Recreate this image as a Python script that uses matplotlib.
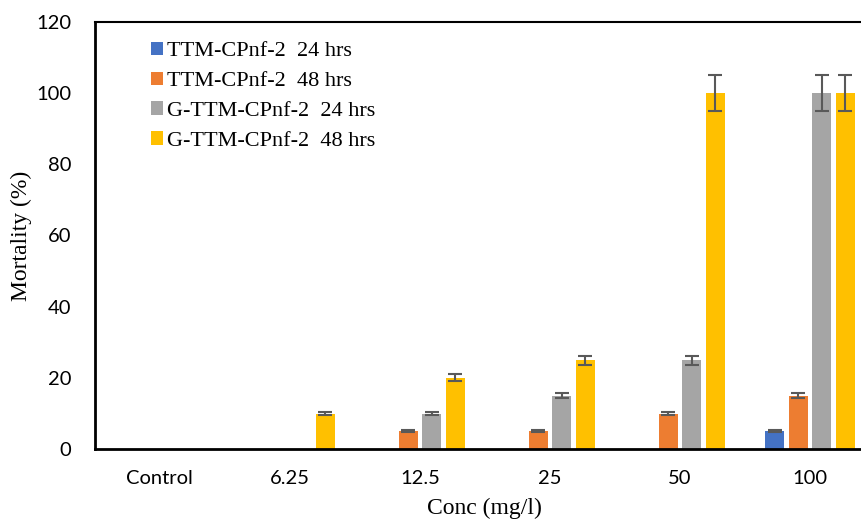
import numpy as np
import matplotlib.pyplot as plt

# mortality (%) per concentration, mean and error for each treatment
categories = ["Control", "6.25", "12.5", "25", "50", "100"]
series_names = [
    "TTM-CPnf-2  24 hrs",
    "TTM-CPnf-2  48 hrs",
    "G-TTM-CPnf-2  24 hrs",
    "G-TTM-CPnf-2  48 hrs",
]
ttm_24 = [0, 0, 0, 0, 0, 5]
ttm_48 = [0, 0, 5, 5, 10, 15]
gttm_24 = [0, 0, 10, 15, 25, 100]
gttm_48 = [0, 10, 20, 25, 100, 100]

ttm_24_err = [0, 0, 0, 0, 0, 0.25]
ttm_48_err = [0, 0, 0.25, 0.25, 0.5, 0.75]
gttm_24_err = [0, 0, 0.5, 0.75, 1.25, 5]
gttm_48_err = [0, 0.5, 1, 1.25, 5, 5]

values = [ttm_24, ttm_48, gttm_24, gttm_48]
errors = [ttm_24_err, ttm_48_err, gttm_24_err, gttm_48_err]
colors = ["#4472C4", "#ED7D31", "#A5A5A5", "#FFC000"]

fig = plt.figure(figsize=(8.62, 5.21), dpi=100)
# plot box runs a little past the right edge of the figure
ax = fig.add_axes([0.110, 0.138, 0.905, 0.820])

x = np.arange(len(categories))
pitch = 0.181
width = 0.146
for i, (vals, errs, c, name) in enumerate(zip(values, errors, colors, series_names)):
    pos = x + (i - 1.5) * pitch
    ax.bar(pos, vals, width, color=c, label=name, zorder=2)
    v = np.array(vals, dtype=float)
    e = np.array(errs, dtype=float)
    mask = v > 0
    ax.errorbar(pos[mask], v[mask], yerr=e[mask], fmt="none", ecolor="#595959",
                elinewidth=1.5, capsize=5, capthick=1.5, zorder=3)

ax.set_xlim(-0.5, len(categories) - 0.5)
ax.set_ylim(0, 120)
ax.set_yticks(range(0, 121, 20))
ax.set_xticks(x)
ax.set_xticklabels(categories)

for lbl in ax.get_xticklabels() + ax.get_yticklabels():
    lbl.set_fontfamily(["Lato", "DejaVu Sans"])
    lbl.set_fontsize(14.5)
ax.tick_params(axis="both", length=0)
ax.tick_params(axis="y", pad=17)
ax.tick_params(axis="x", pad=15)

for side in ["left", "bottom"]:
    ax.spines[side].set_linewidth(2)
ax.spines["top"].set_linewidth(1.5)
ax.spines["right"].set_visible(False)

ax.set_ylabel("Mortality (%)", family="Liberation Serif", fontsize=17)
ax.yaxis.set_label_coords(-0.08, 0.5)
ax.set_xlabel("Conc (mg/l)", family="Liberation Serif", fontsize=17)
ax.xaxis.set_label_coords(0.5, -0.115)

ax.legend(loc="upper left", bbox_to_anchor=(0.049, 0.995), frameon=False,
          prop={"family": "Liberation Serif", "size": 16},
          handlelength=0.55, handleheight=0.55, handletextpad=0.2,
          labelspacing=0.46, borderpad=0.3)

fig.savefig("out.png", dpi=100)
